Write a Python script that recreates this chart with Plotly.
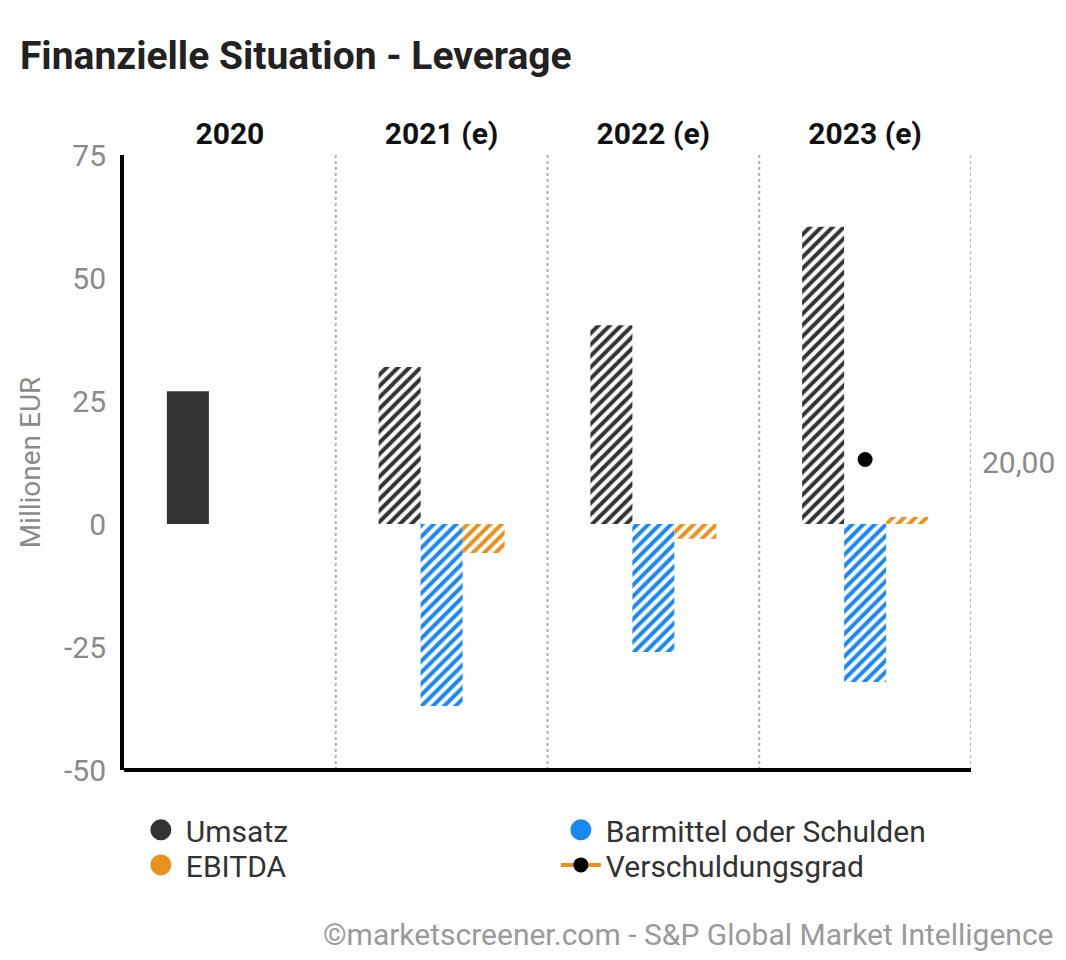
import plotly.graph_objects as go

categories = ["2020", "2021 (e)", "2022 (e)", "2023 (e)"]
umsatz = [27.0, 31.9, 40.4, 60.4]
barmittel = [None, -37.0, -26.0, -32.1]
ebitda = [None, -5.9, -3.0, 1.4]
verschuldung = [None, None, None, 20.2]
umsatz_patterns = ["", "/", "/", "/"]

C_UMSATZ = "#333333"
C_BAR = "#1a88f4"
C_EBITDA = "#e8911e"
GRAY = "#8a8a8a"
FONT = "Roboto"

fig = go.Figure()


def pat(col, shape):
    return dict(shape=shape, size=8, solidity=0.5, fgcolor=col, bgcolor="white", fgopacity=1)


fig.add_trace(go.Bar(x=categories, y=umsatz, name="Umsatz", marker_color=C_UMSATZ,
                     marker_line_width=0, marker_pattern=pat(C_UMSATZ, umsatz_patterns),
                     showlegend=False))
fig.add_trace(go.Bar(x=categories, y=barmittel, name="Barmittel oder Schulden", marker_color=C_BAR,
                     marker_line_width=0, marker_pattern=pat(C_BAR, "/"), showlegend=False))
fig.add_trace(go.Bar(x=categories, y=ebitda, name="EBITDA", marker_color=C_EBITDA,
                     marker_line_width=0, marker_pattern=pat(C_EBITDA, "/"), showlegend=False))

# legend entries with circle symbols: row 1 in legend, row 2 in legend2
for nm, col, lg in [("Umsatz", C_UMSATZ, "legend"), ("Barmittel oder Schulden", C_BAR, "legend"),
                    ("EBITDA", C_EBITDA, "legend2")]:
    fig.add_trace(go.Scatter(x=[None], y=[None], mode="markers", name=nm, legend=lg,
                             marker=dict(symbol="circle", size=24, color=col,
                                         line=dict(color=col, width=6))))

fig.add_trace(go.Scatter(x=categories, y=verschuldung, name="Verschuldungsgrad", yaxis="y2",
                         legend="legend2",
                         mode="lines+markers", line=dict(color=C_EBITDA, width=4),
                         marker=dict(color="black", size=15)))

shapes = []
for i in range(len(categories)):
    shapes.append(dict(type="line", xref="x", yref="paper", x0=i + 0.5, x1=i + 0.5, y0=0, y1=1,
                       line=dict(color="#b0b0b0", width=2, dash="dot"), layer="below"))
shapes.append(dict(type="line", xref="paper", yref="paper", x0=0, x1=1, y0=0, y1=0,
                   line=dict(color="black", width=4)))

legend_common = dict(orientation="h", x=0.014, xanchor="left", yanchor="top",
                     entrywidth=365, entrywidthmode="pixels", itemwidth=40,
                     bgcolor="rgba(0,0,0,0)",
                     font=dict(family=FONT, size=30, color="#333333"), traceorder="normal")

fig.update_layout(
    width=1050, height=944,
    paper_bgcolor="white", plot_bgcolor="white",
    margin=dict(l=116, r=87, t=147, b=182, autoexpand=False),
    barmode="group", bargap=0.405, bargroupgap=0,
    font=dict(family=FONT, color="#333333"),
    title=dict(text="<b>Finanzielle Situation - Leverage</b>", x=0.0114, xanchor="left",
               y=0.950, yanchor="middle", font=dict(family=FONT, size=39, color="#222222")),
    xaxis=dict(side="top", showline=False, showgrid=False, zeroline=False, automargin=False,
               tickfont=dict(family=FONT, size=30, color="#111111", weight="bold"),
               ticklabelstandoff=4, range=[-0.5, 3.5]),
    yaxis=dict(range=[-50, 75], tickvals=[-50, -25, 0, 25, 50, 75],
               ticktext=["-50", "-25", "0", "25", "50", "75"], automargin=False,
               showgrid=False, zeroline=False, showline=True, linecolor="black", linewidth=4,
               tickfont=dict(family=FONT, size=30, color=GRAY), ticklabelstandoff=8,
               title=dict(text="Millionen EUR", font=dict(family=FONT, size=28, color=GRAY),
                          standoff=16)),
    yaxis2=dict(overlaying="y", side="right", range=[0, 40], tickvals=[20], ticktext=["20,00"],
                showgrid=False, zeroline=False, showline=False, automargin=False,
                tickfont=dict(family=FONT, size=30, color=GRAY), ticklabelstandoff=10),
    legend=dict(y=-0.055, **legend_common),
    legend2=dict(y=-0.112, **legend_common),
    shapes=shapes,
    annotations=[dict(text="©marketscreener.com - S&P Global Market Intelligence", xref="paper",
                      yref="paper", x=1.1004, y=-0.2667, xanchor="right", yanchor="middle",
                      showarrow=False, font=dict(family=FONT, size=30, color="#9a9a9a"))],
)

fig.write_html("out.html")
